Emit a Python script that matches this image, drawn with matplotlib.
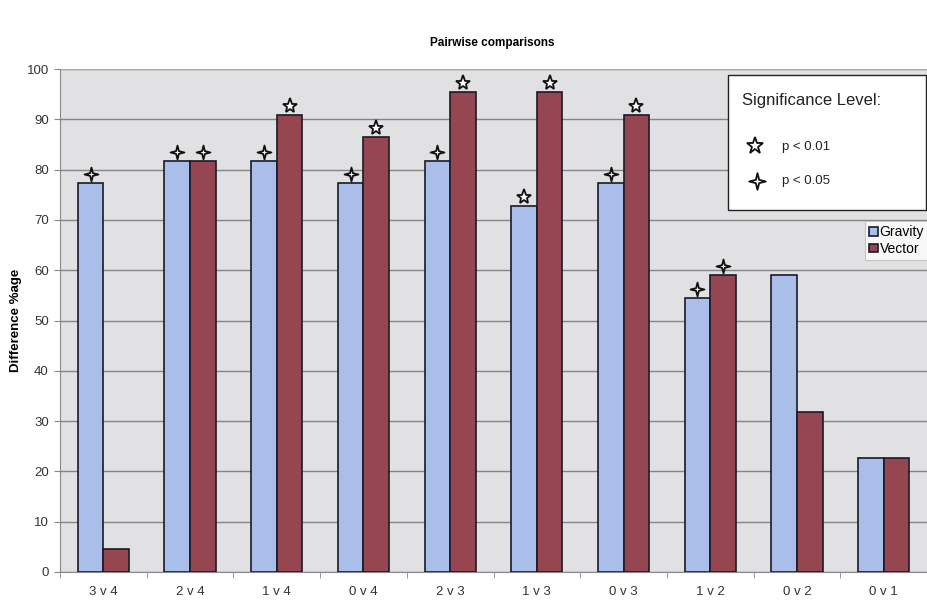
import matplotlib
matplotlib.use("Agg")
import matplotlib.pyplot as plt
import numpy as np
from matplotlib.transforms import ScaledTranslation
from matplotlib.patches import Rectangle
from matplotlib.lines import Line2D
from matplotlib.path import Path

plt.rcParams["font.family"] = ["Liberation Sans", "DejaVu Sans"]

categories = ["3 v 4", "2 v 4", "1 v 4", "0 v 4", "2 v 3", "1 v 3", "0 v 3", "1 v 2", "0 v 2", "0 v 1"]
gravity = [77.3, 81.8, 81.8, 77.3, 81.8, 72.7, 77.3, 54.5, 59.1, 22.7]
vector = [4.5, 81.8, 90.9, 86.4, 95.5, 95.5, 90.9, 59.1, 31.8, 22.7]
# significance per bar: "01" -> p < 0.01, "05" -> p < 0.05, "" -> none
gravity_sig = ["05", "05", "05", "05", "05", "01", "05", "05", "", ""]
vector_sig = ["", "05", "01", "01", "01", "01", "01", "05", "", ""]
yticks = [0, 10, 20, 30, 40, 50, 60, 70, 80, 90, 100]

C_GRAV = "#a9bfe9"
C_VECT = "#964650"
PLOT_BG = "#e1e1e3"
GRID = "#858585"
EDGE = "#1a1a2a"

# slender four-pointed star
ang = np.arange(8) * np.pi / 4 + np.pi / 2
rad = np.where(np.arange(8) % 2 == 0, 1.0, 0.28)
verts = np.column_stack([rad * np.cos(ang), rad * np.sin(ang)])
verts = np.vstack([verts, verts[:1]])
codes = [Path.MOVETO] + [Path.LINETO] * 7 + [Path.CLOSEPOLY]
STAR4 = Path(verts, codes)

fig = plt.figure(figsize=(9.27, 6.04), dpi=100)
fig.patch.set_facecolor("white")
ax = fig.add_axes([60 / 927, 32 / 604, 867 / 927, 503 / 604])
ax.set_facecolor(PLOT_BG)

x = np.arange(len(categories))
w = 0.295
ax.bar(x - w / 2, gravity, width=w, color=C_GRAV, edgecolor=EDGE, linewidth=1.2, zorder=3)
ax.bar(x + w / 2, vector, width=w, color=C_VECT, edgecolor=EDGE, linewidth=1.2, zorder=3)

ax.set_xlim(-0.5, len(categories) - 0.5)
ax.set_ylim(0, 100)
ax.set_yticks(yticks)
ax.set_yticklabels([str(t) for t in yticks], fontsize=9.5, color="#333333")
ax.yaxis.grid(True, color=GRID, linewidth=1.0, zorder=1)
ax.set_axisbelow(True)

ax.set_xticks(x)
ax.set_xticklabels(categories, fontsize=9.5, color="#333333")
ax.tick_params(axis="x", length=0, pad=10)
ax.set_xticks(np.arange(len(categories) + 1) - 0.5, minor=True)
ax.tick_params(axis="x", which="minor", length=4, color="#888888", direction="out")
ax.tick_params(axis="y", length=4, color="#888888", direction="out", pad=4)

for side in ["top", "right"]:
    ax.spines[side].set_visible(False)
ax.spines["left"].set_color("#888888")
ax.spines["bottom"].set_color("#888888")
ax.axhline(100, color="#a8a8a8", linewidth=0.9, zorder=2)

ax.set_ylabel("Difference %age", fontsize=9.5, fontweight="bold")
ax.yaxis.set_label_coords(-38 / 867, 0.5)
fig.text(492 / 927, 1 - 43 / 604, "Pairwise comparisons", ha="center", va="center",
         fontsize=8.5, fontweight="bold")

# significance markers sit just above each bar
offset = ax.transData + ScaledTranslation(0, 6.5 / 72, fig.dpi_scale_trans)
marker_style = {"01": dict(marker="*", markersize=11),
                "05": dict(marker=STAR4, markersize=10)}
for xs, vals, sigs in [(x - w / 2, gravity, gravity_sig), (x + w / 2, vector, vector_sig)]:
    for xi, v, s in zip(xs, vals, sigs):
        if s:
            ax.plot([xi], [v], linestyle="none", markerfacecolor="white",
                    markeredgecolor="#111111", markeredgewidth=1.3,
                    transform=offset, zorder=5, clip_on=False, **marker_style[s])

# significance key box
fig.patches.append(Rectangle((728 / 927, 1 - 210 / 604), 198 / 927, 135 / 604,
                             transform=fig.transFigure, facecolor="white",
                             edgecolor="#222222", linewidth=1.0, zorder=10))
fig.text(742 / 927, 1 - 101 / 604, "Significance Level:", fontsize=12, va="center",
         color="#222222", zorder=11)
fig.add_artist(Line2D([755 / 927], [1 - 146 / 604], marker="*", markersize=12.5,
                      markerfacecolor="white", markeredgecolor="#111111",
                      markeredgewidth=1.3, transform=fig.transFigure, zorder=11))
fig.add_artist(Line2D([757 / 927], [1 - 181 / 604], marker=STAR4, markersize=12,
                      markerfacecolor="white", markeredgecolor="#111111",
                      markeredgewidth=1.3, transform=fig.transFigure, zorder=11))
fig.text(782 / 927, 1 - 147 / 604, "p < 0.01", fontsize=9.5, va="center", color="#222222", zorder=11)
fig.text(782 / 927, 1 - 181 / 604, "p < 0.05", fontsize=9.5, va="center", color="#222222", zorder=11)

# series legend
handles = [Rectangle((0, 0), 1, 1, facecolor=C_GRAV, edgecolor=EDGE, linewidth=1.2),
           Rectangle((0, 0), 1, 1, facecolor=C_VECT, edgecolor=EDGE, linewidth=1.2)]
leg = fig.legend(handles, ["Gravity", "Vector"], loc="upper left",
                 bbox_to_anchor=(865 / 927, 1 - 221 / 604), fontsize=10,
                 frameon=True, fancybox=False, handlelength=0.6, handleheight=0.6,
                 handletextpad=0.15, borderpad=0.3, labelspacing=0.2, borderaxespad=0)
leg.get_frame().set_edgecolor("#bbbbbb")
leg.get_frame().set_facecolor("white")
leg.get_frame().set_linewidth(0.8)

fig.savefig("out.png", dpi=100)
